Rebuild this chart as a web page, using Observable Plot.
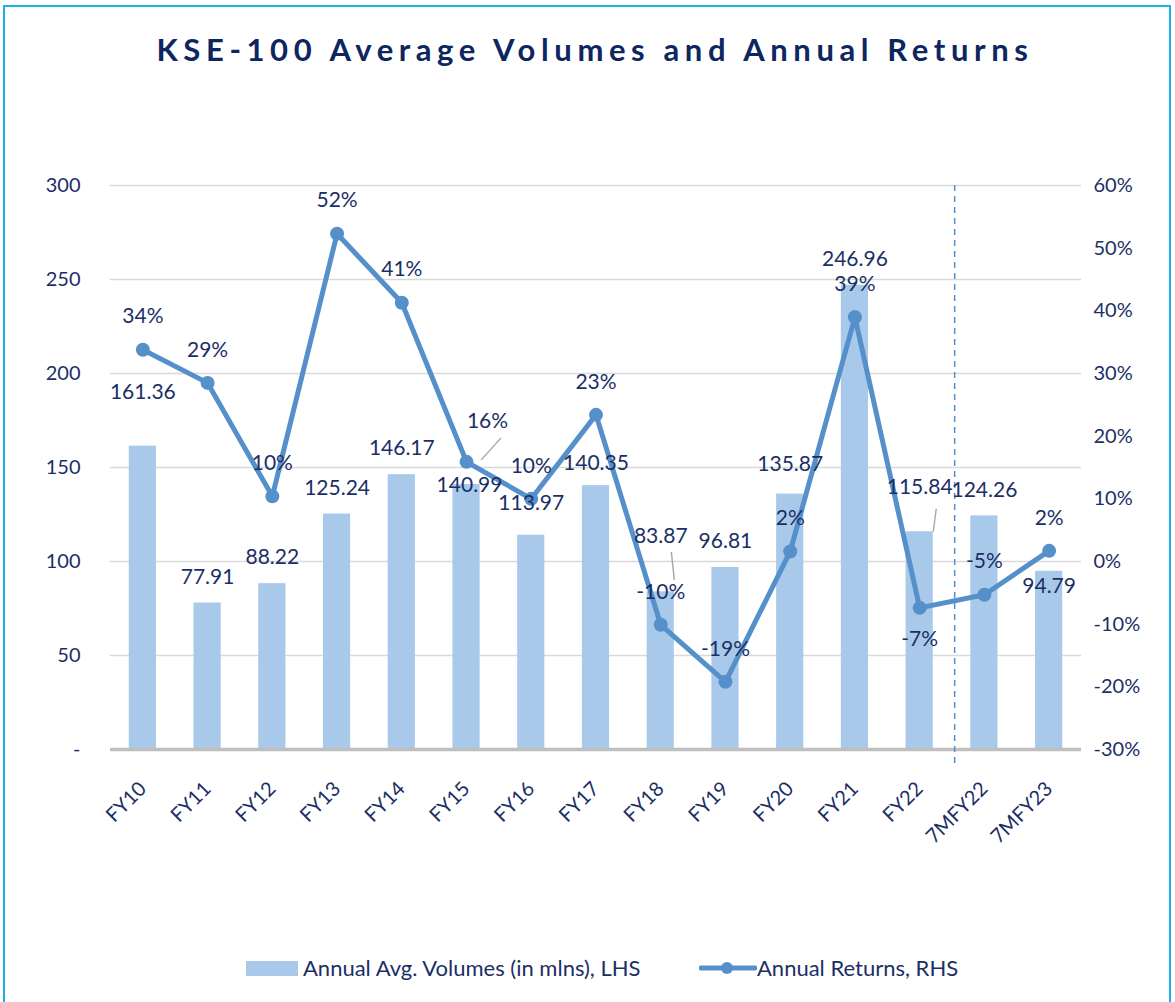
<!DOCTYPE html>
<html>
<head>
<meta charset="utf-8">
<script src="https://cdn.jsdelivr.net/npm/d3@7"></script>
<script src="https://cdn.jsdelivr.net/npm/@observablehq/plot@0.6"></script>
<style>
  html, body { margin: 0; padding: 0; background: #fff; overflow: hidden; }
  #wrap { position: relative; width: 1175px; height: 1002px; font-family: Lato, "Open Sans", sans-serif; }
  #frame { position: absolute; left: 3px; top: 5px; width: 1168px; height: 1010px; border: 2px solid #1fb0e8; box-sizing: border-box; }
  #title { position: absolute; left: 0; width: 1190px; top: 30px; text-align: center; font-size: 31px; font-weight: bold; letter-spacing: 5.6px; color: #0d2660; }
  #chart { position: absolute; left: 0; top: 0; }
  #legend { position: absolute; top: 954px; left: 0; width: 1175px; height: 30px; font-size: 22px; color: #1b2f66; }
  .lg { position: absolute; top: 0; white-space: nowrap; line-height: 28px; }
</style>
</head>
<body>
<div id="wrap">
  <div id="frame"></div>
  <div id="chart"></div>
  <div id="title">KSE-100 Average Volumes and Annual Returns</div>
  <div id="legend">
    <svg class="lg" style="left:246px;top:7px" width="52" height="15"><rect width="52" height="15" fill="#a9c9ea"/></svg>
    <div class="lg" style="left:303px">Annual Avg. Volumes (in mlns), LHS</div>
    <svg class="lg" style="left:699px;top:4px" width="58" height="20"><line x1="2" y1="10" x2="56" y2="10" stroke="#5590cb" stroke-width="5" stroke-linecap="round"/><circle cx="28" cy="10" r="6" fill="#5590cb"/></svg>
    <div class="lg" style="left:757px">Annual Returns, RHS</div>
  </div>
</div>
<script>
const categories = ["FY10","FY11","FY12","FY13","FY14","FY15","FY16","FY17","FY18","FY19","FY20","FY21","FY22","7MFY22","7MFY23"];
const volumes = [161.36, 77.91, 88.22, 125.24, 146.17, 140.99, 113.97, 140.35, 83.87, 96.81, 135.87, 246.96, 115.84, 124.26, 94.79];
const returns = [0.338, 0.285, 0.104, 0.523, 0.413, 0.159, 0.100, 0.234, -0.101, -0.192, 0.016, 0.390, -0.074, -0.053, 0.017];
const returnLabels = ["34%","29%","10%","52%","41%","16%","10%","23%","-10%","-19%","2%","39%","-7%","-5%","2%"];
const volumeTicks = [0, 50, 100, 150, 200, 250, 300];
const returnTicks = [-0.3, -0.2, -0.1, 0, 0.1, 0.2, 0.3, 0.4, 0.5, 0.6];

// layout (not data)
const W = 1175, H = 860, MT = 185, MB = 111, ML = 110, MR = 94;
const pxPerUnit = (H - MT - MB) / 300;
const toLeft = r => (r * 100 + 30) * 300 / 90;
const fromPx = px => px / pxPerUnit; // pixel offset -> volume units
// label pixel shifts (negative = up)
const volShift = {"FY10": -54, "FY15": 1, "FY16": -32, "FY17": -22, "FY18": -56, "FY20": -30, "FY22": -44, "7MFY23": 15};
const volDx = {"FY15": 3};
const retShift = {"FY15": -41, "FY22": 31};
const retDx = {"FY15": 21};

const rows = categories.map((c, i) => ({cat: c, vol: volumes[i], ret: returns[i], retLabel: returnLabels[i]}));
const navy = "#1b2f66";
const lineBlue = "#5590cb";

const volText = rows.map(d => ({...d, ly: d.vol - fromPx(volShift[d.cat] ?? -26), dx: volDx[d.cat] ?? 0}));
const retText = rows.map(d => ({...d, ly: toLeft(d.ret) - fromPx(retShift[d.cat] ?? -33), dx: retDx[d.cat] ?? 0}));

const leaders = [
  {cat: "FY15", y1: toLeft(returns[5]) - fromPx(-2), y2: toLeft(returns[5]) - fromPx(-24), dx1: 1, dx2: 21},
  {cat: "FY18", y1: volumes[8] - fromPx(-12), y2: volumes[8] - fromPx(-40), dx1: 0, dx2: -3},
  {cat: "FY22", y1: volumes[12] - fromPx(0), y2: volumes[12] - fromPx(-23), dx1: 0, dx2: 3}
];

const chart = Plot.plot({
  width: W, height: H,
  marginTop: MT, marginBottom: MB, marginLeft: ML, marginRight: MR,
  style: {fontFamily: "Lato, 'Open Sans', sans-serif", fontSize: "19px", color: navy, background: "transparent", overflow: "visible"},
  x: {domain: categories, paddingInner: 0.58, paddingOuter: 0.29, round: false, axis: null, label: null},
  y: {domain: [0, 300], axis: null},
  marks: [
    Plot.ruleY(volumeTicks.filter(d => d > 0), {stroke: "#d9d9d9", strokeWidth: 1.5}),
    Plot.barY(rows, {x: "cat", y: "vol", fill: "#a9c9ea"}),
    Plot.ruleY([0], {stroke: "#bfbfbf", strokeWidth: 3.5}),
    Plot.ruleX(["FY22"], {dx: 35, y1: 300, y2: -10, stroke: lineBlue, strokeWidth: 1.5, strokeDasharray: "6,5"}),
    ...leaders.map(l => Plot.link([l], {x1: "cat", x2: "cat", y1: "y1", y2: "y2", stroke: "#a6a6a6", strokeWidth: 1.4,
      render: (index, scales, values, dims, ctx, next) => {
        const g = next(index, scales, values, dims, ctx);
        d3.select(g).selectAll("path").each(function() {
          const x = scales.x(l.cat) + scales.x.bandwidth() / 2;
          d3.select(this).attr("d", `M${x + l.dx1},${scales.y(l.y1)}L${x + l.dx2},${scales.y(l.y2)}`);
        });
        return g;
      }})),
    Plot.line(rows, {x: "cat", y: d => toLeft(d.ret), stroke: lineBlue, strokeWidth: 5, strokeLinejoin: "round"}),
    Plot.dot(rows, {x: "cat", y: d => toLeft(d.ret), r: 7, fill: lineBlue}),
    ...volText.map(d => Plot.text([d], {x: "cat", y: "ly", text: d => d.vol.toFixed(2), dx: d.dx, fill: navy, fontSize: 21})),
    ...retText.map(d => Plot.text([d], {x: "cat", y: "ly", text: "retLabel", dx: d.dx, fill: navy, fontSize: 21})),
    Plot.axisY(volumeTicks, {anchor: "left", tickSize: 0, tickPadding: 30, tickFormat: d => d === 0 ? "-" : String(d), fontSize: 20, label: null}),
    Plot.axisY(returnTicks.map(toLeft), {anchor: "right", tickSize: 0, tickPadding: 12, tickFormat: d => Math.round(d * 90 / 300 - 30) + "%", fontSize: 20, label: null}),
    Plot.axisX({tickRotate: -45, tickSize: 0, tickPadding: 36, fontSize: 20, label: null})
  ]
});
document.getElementById("chart").appendChild(chart);
</script>
</body>
</html>
